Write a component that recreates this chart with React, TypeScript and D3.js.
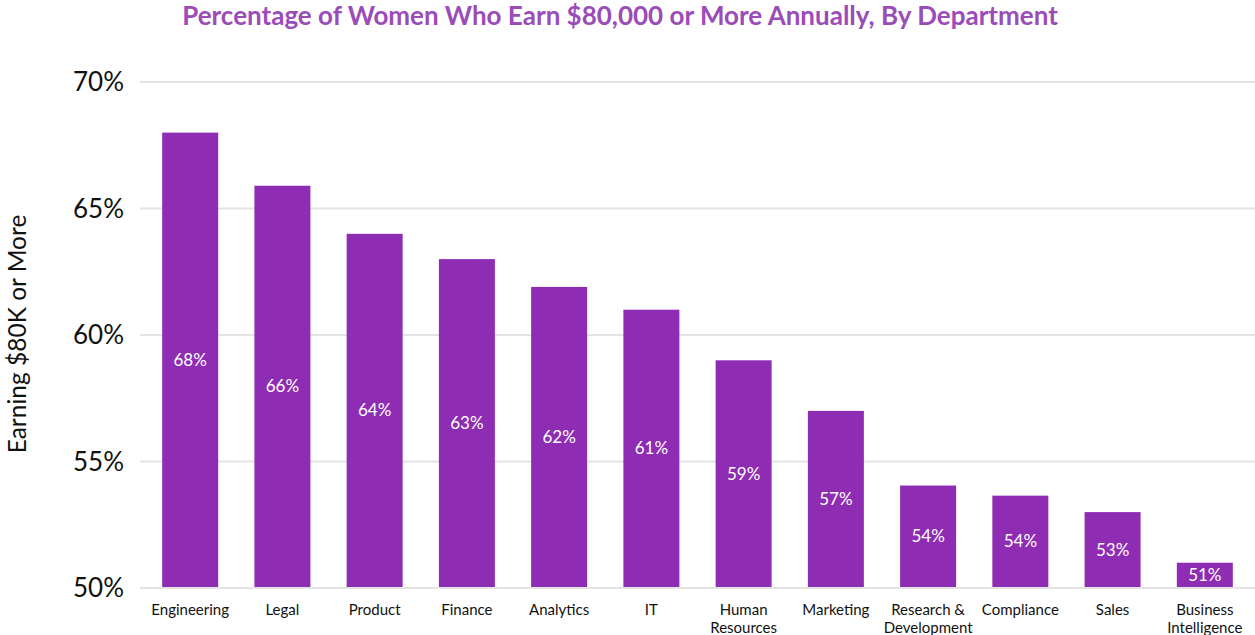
import React from 'react';
import * as d3 from 'd3';

const departments = [
  ['Engineering'],
  ['Legal'],
  ['Product'],
  ['Finance'],
  ['Analytics'],
  ['IT'],
  ['Human', 'Resources'],
  ['Marketing'],
  ['Research &', 'Development'],
  ['Compliance'],
  ['Sales'],
  ['Business', 'Intelligence'],
];
const shares = [68, 65.9, 64, 63, 61.9, 61, 59, 57, 54.05, 53.65, 53, 51];
const shareLabels = ['68%', '66%', '64%', '63%', '62%', '61%', '59%', '57%', '54%', '54%', '53%', '51%'];
const yTicks = [50, 55, 60, 65, 70];

const width = 1255;
const height = 635;
const barColor = '#8e2db3';
const titleColor = '#9a4cb8';
const font = 'Lato, "Open Sans", sans-serif';

const App = () => {
  const keys = departments.map(d => d.join(' '));
  const x = d3.scaleBand()
    .domain(keys)
    .range([144, 1251])
    .paddingInner(0.393)
    .paddingOuter(0.197);
  const y = d3.scaleLinear().domain([50, 70]).range([588, 82]);

  return (
    <svg width={width} height={height} style={{ position: 'absolute', left: 0, top: 0, background: '#fff' }}>
      <text x={620} y={25} textAnchor="middle" fontFamily={font} fontWeight="bold" fontSize={26} fill={titleColor}>
        Percentage of Women Who Earn $80,000 or More Annually, By Department
      </text>
      <text
        transform={`translate(26,${334}) rotate(-90)`}
        textAnchor="middle"
        fontFamily={font}
        fontSize={24.5}
        fill="#111"
      >
        Earning $80K or More
      </text>
      {yTicks.map(t => (
        <g key={t}>
          <line x1={140} x2={width} y1={y(t)} y2={y(t)} stroke="#e4e4e4" strokeWidth={2} />
          <text x={124} y={y(t)} dy="0.35em" textAnchor="end" fontFamily={font} fontSize={26} fill="#111">
            {t}%
          </text>
        </g>
      ))}
      {keys.map((k, i) => {
        const x0 = x(k) ?? 0;
        const top = y(shares[i]);
        const bottom = y(50) - 1;
        return (
          <g key={k}>
            <rect x={x0} y={top} width={x.bandwidth()} height={bottom - top} fill={barColor} />
            <text
              x={x0 + x.bandwidth() / 2}
              y={(top + bottom) / 2}
              dy="0.35em"
              textAnchor="middle"
              fontFamily={font}
              fontSize={17}
              fill="#fff"
            >
              {shareLabels[i]}
            </text>
            {departments[i].map((line, j) => (
              <text
                key={line}
                x={x0 + x.bandwidth() / 2}
                y={615 + j * 18}
                textAnchor="middle"
                fontFamily={font}
                fontSize={15}
                fill="#111"
              >
                {line}
              </text>
            ))}
          </g>
        );
      })}
    </svg>
  );
};

export default App;
